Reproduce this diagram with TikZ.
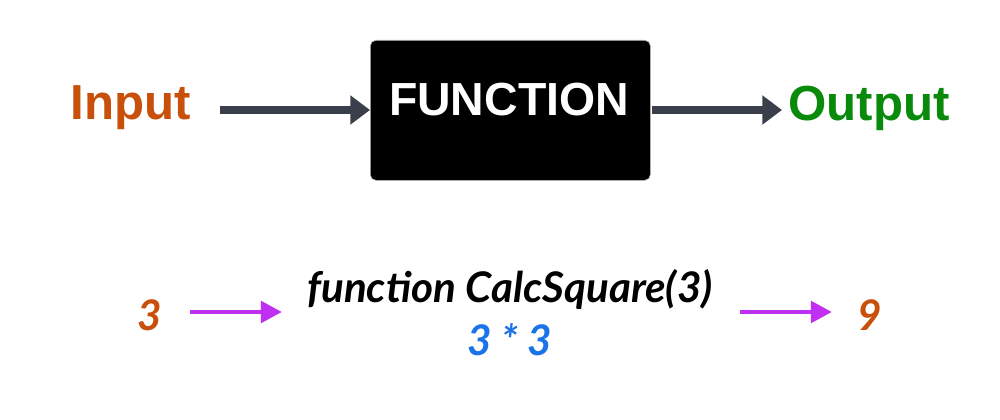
\documentclass[tikz,border=0pt]{standalone}
\usepackage{fontspec}
\setmainfont{Liberation Sans}
\newfontfamily\latofont{Lato}
\usetikzlibrary{arrows.meta}
\definecolor{inorange}{HTML}{C8500A}
\definecolor{outgreen}{HTML}{0A8A0A}
\definecolor{arrowgray}{HTML}{3A3F4B}
\definecolor{callpurple}{HTML}{C030F0}
\definecolor{calcblue}{HTML}{1A73E8}
\begin{document}
\begin{tikzpicture}
    [x=0.025cm, y=-0.025cm,
    word/.style={font=\fontsize{35}{40}\selectfont\bfseries},
    calc/.style={font=\latofont\fontsize{30}{36}\selectfont\bfseries\itshape},
    bigarrow/.style={arrowgray, line width=5pt, -{Triangle[length=14pt, width=20pt]}},
    smallarrow/.style={callpurple, line width=3.5pt, -{Triangle[length=15pt, width=15pt]}}]

    \useasboundingbox (0,0) rectangle (1000,420);

    % top row
    \node[word, inorange] (input) at (131,108) {Input};
    \node[draw=gray!60, fill=black, rounded corners=4pt, minimum width=7cm, minimum height=3.5cm,
          anchor=north west] (func) at (370,40) {};
    \node[font=\fontsize{33}{38}\selectfont\bfseries, text=white] (ftext) at (509,100) {FUNCTION};
    \node[word, outgreen] (output) at (869,108) {Output};
    \coordinate (inend) at (220,110);
    \coordinate (outstart) at (652,110);
    \coordinate (outend) at (782,110);
    \draw[bigarrow] (inend) -- (func.west |- inend);
    \draw[bigarrow] (outstart) -- (outend);

    % example call
    \node[calc, inorange] (three) at (150,315) {3};
    \node[calc] (call) at (510,290) {function CalcSquare(3)};
    \node[calc, calcblue] (square) at (510,340) {3 * 3};
    \node[calc, inorange] (nine) at (870,315) {9};
    \coordinate (threeend) at (190,312);
    \coordinate (callin) at (282,312);
    \coordinate (callout) at (740,312);
    \coordinate (nineend) at (832,312);
    \draw[smallarrow] (threeend) -- (callin);
    \draw[smallarrow] (callout) -- (nineend);
\end{tikzpicture}
\end{document}
